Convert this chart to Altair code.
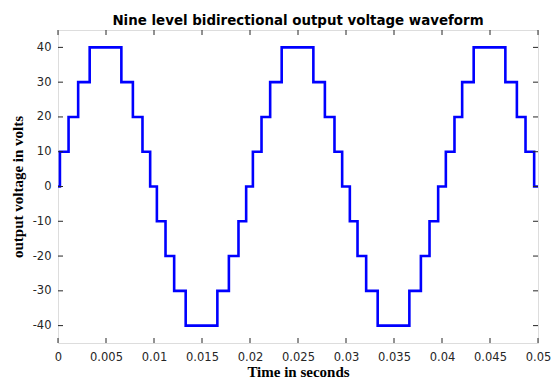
import altair as alt
import pandas as pd

# Step waveform: switching instants (s) and the level held from that instant (V)
times = [0.0, 0.0002, 0.0011, 0.0021, 0.0033, 0.0066, 0.0078, 0.0088, 0.0096,
         0.0103, 0.0112, 0.0121, 0.0133, 0.0166, 0.0178, 0.0188, 0.0196,
         0.0203, 0.0212, 0.0221, 0.0233, 0.0266, 0.0278, 0.0288, 0.0296,
         0.0304, 0.0312, 0.0321, 0.0333, 0.0366, 0.0378, 0.0387, 0.0396,
         0.0404, 0.0413, 0.0421, 0.0433, 0.0466, 0.0478, 0.0487, 0.0496, 0.05]
levels = [0, 10, 20, 30, 40, 30, 20, 10, 0,
          -10, -20, -30, -40, -30, -20, -10, 0,
          10, 20, 30, 40, 30, 20, 10, 0,
          -10, -20, -30, -40, -30, -20, -10, 0,
          10, 20, 30, 40, 30, 20, 10, 0, 0]

x_ticks = [0, 0.005, 0.01, 0.015, 0.02, 0.025, 0.03, 0.035, 0.04, 0.045, 0.05]
y_ticks = [-40, -30, -20, -10, 0, 10, 20, 30, 40]

W, H = 480, 313
TXT = "#262626"

df = pd.DataFrame({"t": times, "v": levels})
xt = pd.DataFrame({"t": x_ticks})
yt = pd.DataFrame({"v": y_ticks})

xscale = alt.Scale(domain=[0, 0.05], nice=False, zero=False)
yscale = alt.Scale(domain=[-45, 45], nice=False, zero=False)

x_axis = alt.Axis(values=x_ticks, ticks=False, grid=False,
                  labelExpr="'' + datum.value", labelFlush=False,
                  labelFont="DejaVu Sans", labelFontSize=11.5,
                  labelColor=TXT, labelPadding=8, domain=False,
                  title="Time in seconds", titleFont="Liberation Serif",
                  titleFontSize=15, titleFontWeight="bold",
                  titleColor="#000000", titleBaseline="alphabetic",
                  titleY=33.5)
y_axis = alt.Axis(values=y_ticks, ticks=False, grid=False,
                  labelExpr="'' + datum.value", labelFlush=False,
                  labelFont="DejaVu Sans", labelFontSize=11.5,
                  labelColor=TXT, labelPadding=7, domain=False,
                  title="output voltage in volts",
                  titleFont="Liberation Serif", titleFontSize=15,
                  titleFontWeight="bold", titleColor="#000000",
                  titleAngle=-90, titleBaseline="middle",
                  titleX=-41, titleY=H / 2)

line = alt.Chart(df).mark_line(
    color="#0000FF", strokeWidth=2.6, interpolate="step-after"
).encode(
    x=alt.X("t:Q", scale=xscale, axis=x_axis),
    y=alt.Y("v:Q", scale=yscale, axis=y_axis),
)

tick_style = dict(color=TXT, strokeWidth=1)

left_ticks = alt.Chart(yt).mark_rule(**tick_style).encode(
    y=alt.Y("v:Q", scale=yscale, axis=y_axis),
    x=alt.value(0), x2=alt.value(5))
right_ticks = alt.Chart(yt).mark_rule(**tick_style).encode(
    y=alt.Y("v:Q", scale=yscale, axis=y_axis),
    x=alt.value(W - 5), x2=alt.value(W))
bottom_ticks = alt.Chart(xt).mark_rule(**tick_style).encode(
    x=alt.X("t:Q", scale=xscale, axis=x_axis),
    y=alt.value(H - 5), y2=alt.value(H))
top_ticks = alt.Chart(xt).mark_rule(**tick_style).encode(
    x=alt.X("t:Q", scale=xscale, axis=x_axis),
    y=alt.value(0), y2=alt.value(5))

chart = alt.layer(line, left_ticks, right_ticks, bottom_ticks, top_ticks).properties(
    width=W, height=H,
    title=alt.TitleParams(
        "Nine level bidirectional output voltage waveform",
        font="DejaVu Sans", fontSize=13.4, fontWeight="bold", color="#000000",
        anchor="middle", baseline="alphabetic", offset=6, dy=15),
    autosize=alt.AutoSizeParams(type="none"),
    padding={"left": 58, "top": 30, "right": 14, "bottom": 36},
).configure_view(
    stroke=TXT, strokeWidth=1.2
).configure(background="#ffffff")

chart.save("out.html", embed_options={"renderer": "svg", "actions": False})
